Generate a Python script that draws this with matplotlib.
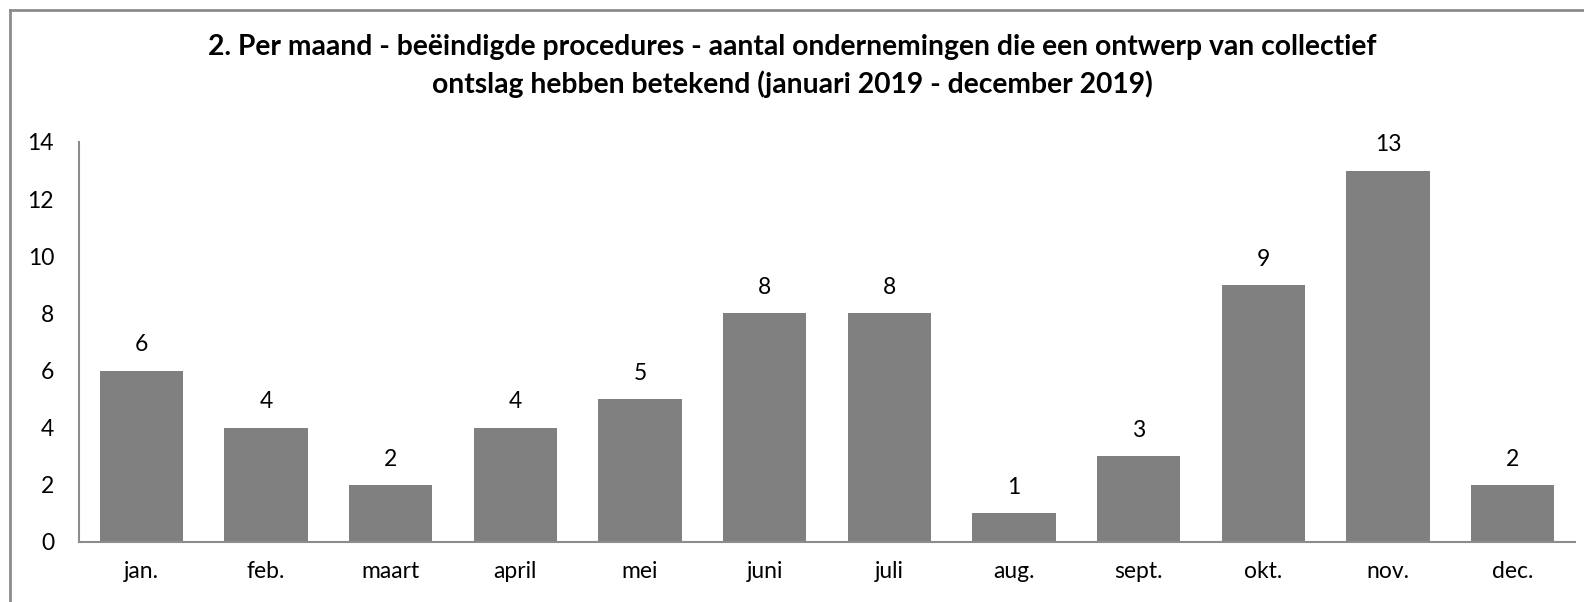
import matplotlib
matplotlib.use("Agg")
import matplotlib.pyplot as plt
from matplotlib.lines import Line2D

months = ["jan.", "feb.", "maart", "april", "mei", "juni", "juli", "aug.", "sept.", "okt.", "nov.", "dec."]
values = [6, 4, 2, 4, 5, 8, 8, 1, 3, 9, 13, 2]
yticks = [0, 2, 4, 6, 8, 10, 12, 14]
title = ("2. Per maand - beëindigde procedures - aantal ondernemingen die een ontwerp van collectief\n"
         "ontslag hebben betekend (januari 2019 - december 2019)")

plt.rcParams['font.family'] = ['Lato', 'DejaVu Sans']

W, H = 1584, 602
fig = plt.figure(figsize=(W / 100, H / 100), dpi=100)
ax = fig.add_axes([79 / W, 1 - 542 / H, (1575 - 79) / W, (542 - 142) / H])

x = list(range(len(months)))
bars = ax.bar(x, values, width=0.67, color="#808080")
for xi, v in zip(x, values):
    ax.annotate(str(v), (xi, v), xytext=(0, 11), textcoords="offset points",
                ha="center", va="bottom", fontsize=16.5, color="#000000")

ax.set_xlim(-0.5, len(months) - 0.5)
ax.set_ylim(0, 14)
ax.set_yticks(yticks)
ax.set_yticklabels([str(t) for t in yticks], fontsize=16.5)
ax.set_xticks(x)
ax.set_xticklabels(months, fontsize=16.5)
ax.tick_params(axis="x", length=0, pad=14)
ax.tick_params(axis="y", length=0, pad=18)
for s in ["top", "right"]:
    ax.spines[s].set_visible(False)
for s in ["left", "bottom"]:
    ax.spines[s].set_color("#8c8c8c")
    ax.spines[s].set_linewidth(1.5)

fig.text(0.5, 1 - 66 / H, title, ha="center", va="center", fontsize=20.3,
         fontweight="bold", linespacing=1.45)

# outer frame (left and top edges visible)
fig.add_artist(Line2D([10 / W, 10 / W], [0, 1 - 10 / H], transform=fig.transFigure,
                      color="#8c8c8c", lw=2))
fig.add_artist(Line2D([10 / W, 1], [1 - 10 / H, 1 - 10 / H], transform=fig.transFigure,
                      color="#8c8c8c", lw=2))

fig.savefig("out.png", dpi=100)
